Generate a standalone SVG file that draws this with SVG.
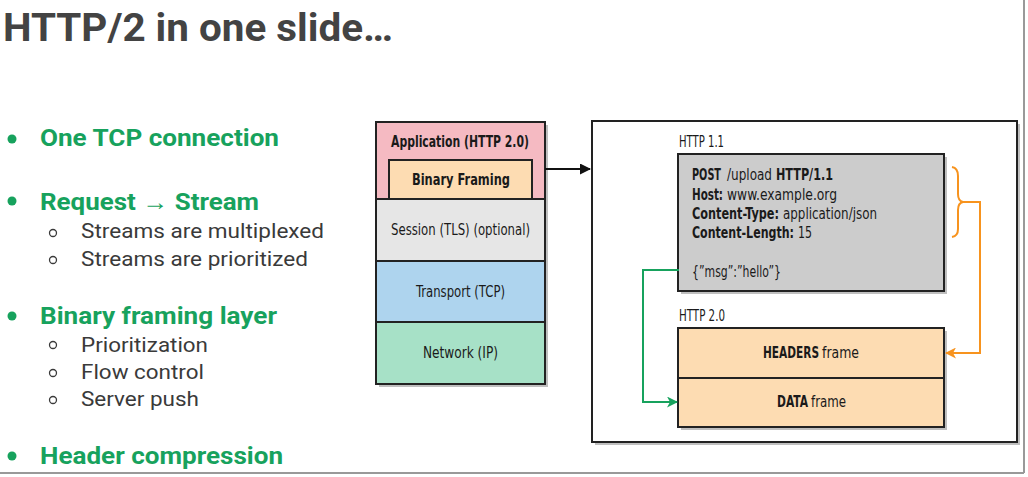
<svg xmlns="http://www.w3.org/2000/svg" width="1028" height="477" viewBox="0 0 1028 477">
<defs>
<style>
.title{font-family:Roboto,"Liberation Sans",sans-serif;font-weight:700;font-size:39px;fill:#434343}
.b1{font-family:Roboto,"Liberation Sans",sans-serif;font-weight:700;font-size:24px;fill:#17a25d}
.b2{font-family:Roboto,"Liberation Sans",sans-serif;font-weight:400;font-size:21px;fill:#3a3a3a}
.lbl{font-family:"Liberation Sans Narrow","DejaVu Sans Condensed","Liberation Sans",sans-serif;font-size:16px;fill:#1a1a1a}
.bold{font-weight:700}
.box{stroke:#222;stroke-width:2}
.shadow{fill:#000;opacity:0.25}
.dot{fill:#17a25d}
.ring{fill:none;stroke:#3a3a3a;stroke-width:1.3}
</style>
<marker id="ab" markerWidth="11" markerHeight="11" refX="10" refY="5.5" orient="auto" markerUnits="userSpaceOnUse"><path d="M0,0 L11,5.5 L0,11 z" fill="#111"/></marker>
<marker id="ao" markerWidth="11" markerHeight="11" refX="10" refY="5.5" orient="auto" markerUnits="userSpaceOnUse"><path d="M0,0 L11,5.5 L0,11 L3,5.5 z" fill="#f7931e"/></marker>
<marker id="ag" markerWidth="11" markerHeight="11" refX="10" refY="5.5" orient="auto" markerUnits="userSpaceOnUse"><path d="M0,0 L11,5.5 L0,11 L3,5.5 z" fill="#17a25d"/></marker>
</defs>
<rect width="1028" height="477" fill="#fff"/>
<g id="frame">
<line x1="0" y1="473" x2="1024" y2="473" stroke="#999" stroke-width="2"/>
<line x1="1024" y1="0" x2="1024" y2="473" stroke="#999" stroke-width="2"/>
</g>
<g id="title"><text class="title" x="3" y="41" textLength="390" lengthAdjust="spacingAndGlyphs">HTTP/2 in one slide…</text></g>
<g id="bullets">
<circle class="dot" cx="12" cy="139" r="4.5"/>
<text class="b1" x="40" y="146" textLength="239" lengthAdjust="spacingAndGlyphs">One TCP connection</text>
<circle class="dot" cx="12" cy="201" r="4.5"/>
<text class="b1" x="40" y="210" textLength="219" lengthAdjust="spacingAndGlyphs">Request → Stream</text>
<circle class="ring" cx="53" cy="233" r="3.5"/>
<text class="b2" x="81" y="238" textLength="243" lengthAdjust="spacingAndGlyphs">Streams are multiplexed</text>
<circle class="ring" cx="53" cy="260" r="3.5"/>
<text class="b2" x="81" y="266" textLength="227" lengthAdjust="spacingAndGlyphs">Streams are prioritized</text>
<circle class="dot" cx="12" cy="316" r="4.5"/>
<text class="b1" x="40" y="324" textLength="237" lengthAdjust="spacingAndGlyphs">Binary framing layer</text>
<circle class="ring" cx="53" cy="345" r="3.5"/>
<text class="b2" x="81" y="352" textLength="127" lengthAdjust="spacingAndGlyphs">Prioritization</text>
<circle class="ring" cx="53" cy="373" r="3.5"/>
<text class="b2" x="81" y="379" textLength="123" lengthAdjust="spacingAndGlyphs">Flow control</text>
<circle class="ring" cx="53" cy="400" r="3.5"/>
<text class="b2" x="81" y="406" textLength="118" lengthAdjust="spacingAndGlyphs">Server push</text>
<circle class="dot" cx="12" cy="456" r="4.5"/>
<text class="b1" x="40" y="464" textLength="243" lengthAdjust="spacingAndGlyphs">Header compression</text>
</g>
<g id="stack">
<rect class="shadow" x="379" y="125" width="169" height="262"/>
<rect id="application" class="box" x="376" y="122" width="169" height="77" fill="#f5bac2"/>
<rect id="session" class="box" x="376" y="199" width="169" height="62" fill="#e6e6e6"/>
<rect id="transport" class="box" x="376" y="261" width="169" height="61" fill="#aed4ee"/>
<rect id="network" class="box" x="376" y="322" width="169" height="62" fill="#a7e1c7"/>
<rect id="framing" class="box" x="389" y="160" width="143" height="39" fill="#fddcb2"/>
<text class="lbl bold" x="391" y="147" textLength="138" lengthAdjust="spacingAndGlyphs">Application (HTTP 2.0)</text>
<text class="lbl bold" x="412" y="185" textLength="98" lengthAdjust="spacingAndGlyphs">Binary Framing</text>
<text class="lbl" x="391" y="235" textLength="139" lengthAdjust="spacingAndGlyphs">Session (TLS) (optional)</text>
<text class="lbl" x="416" y="297" textLength="89" lengthAdjust="spacingAndGlyphs">Transport (TCP)</text>
<text class="lbl" x="423" y="358" textLength="75" lengthAdjust="spacingAndGlyphs">Network (IP)</text>
</g>
<g id="panel">
<rect class="shadow" x="595" y="124" width="425" height="321"/>
<rect class="box" x="592" y="121" width="425" height="321" fill="#fff"/>
</g>
<g id="http11">
<text class="lbl" x="679" y="147" textLength="45" lengthAdjust="spacingAndGlyphs">HTTP 1.1</text>
<rect class="shadow" x="681" y="157" width="266" height="137"/>
<rect class="box" x="678" y="154" width="266" height="137" fill="#cccccc"/>
<text class="lbl bold" x="692" y="180" textLength="29" lengthAdjust="spacingAndGlyphs">POST</text>
<text class="lbl" x="727" y="180" textLength="45" lengthAdjust="spacingAndGlyphs">/upload</text>
<text class="lbl bold" x="776" y="180" textLength="57" lengthAdjust="spacingAndGlyphs">HTTP/1.1</text>
<text class="lbl bold" x="692" y="200" textLength="31" lengthAdjust="spacingAndGlyphs">Host:</text>
<text class="lbl" x="727" y="200" textLength="110" lengthAdjust="spacingAndGlyphs">www.example.org</text>
<text class="lbl bold" x="692" y="219" textLength="87" lengthAdjust="spacingAndGlyphs">Content-Type:</text>
<text class="lbl" x="783" y="219" textLength="94" lengthAdjust="spacingAndGlyphs">application/json</text>
<text class="lbl bold" x="692" y="238" textLength="102" lengthAdjust="spacingAndGlyphs">Content-Length:</text>
<text class="lbl" x="798" y="238" textLength="14" lengthAdjust="spacingAndGlyphs">15</text>
<text class="lbl" x="692" y="277" textLength="89" lengthAdjust="spacingAndGlyphs">{”msg”:”hello”}</text>
</g>
<g id="http2">
<text class="lbl" x="679" y="321" textLength="46" lengthAdjust="spacingAndGlyphs">HTTP 2.0</text>
<rect class="shadow" x="681" y="331" width="266" height="99"/>
<rect id="headers" class="box" x="678" y="328" width="266" height="50" fill="#fddcb2"/>
<rect id="data" class="box" x="678" y="378" width="266" height="49" fill="#fddcb2"/>
<text class="lbl bold" x="763" y="358" textLength="56" lengthAdjust="spacingAndGlyphs">HEADERS</text>
<text class="lbl" x="822" y="358" textLength="37" lengthAdjust="spacingAndGlyphs">frame</text>
<text class="lbl bold" x="777" y="407" textLength="31" lengthAdjust="spacingAndGlyphs">DATA</text>
<text class="lbl" x="811" y="407" textLength="35" lengthAdjust="spacingAndGlyphs">frame</text>
</g>
<g id="connectors" fill="none">
<line x1="545" y1="169" x2="590" y2="169" stroke="#111" stroke-width="2" marker-end="url(#ab)"/>
<path d="M952,167 Q958,168 958,176 L958,194 Q958,201 963,202 Q958,203 958,210 L958,229 Q958,236 952,237" stroke="#f7931e" stroke-width="2"/>
<path d="M963,202 L980,202 L980,353 L946,353" stroke="#f7931e" stroke-width="2" marker-end="url(#ao)"/>
<path d="M679,270 L643,270 L643,402 L677,402" stroke="#17a25d" stroke-width="2" marker-end="url(#ag)"/>
</g>
</svg>
